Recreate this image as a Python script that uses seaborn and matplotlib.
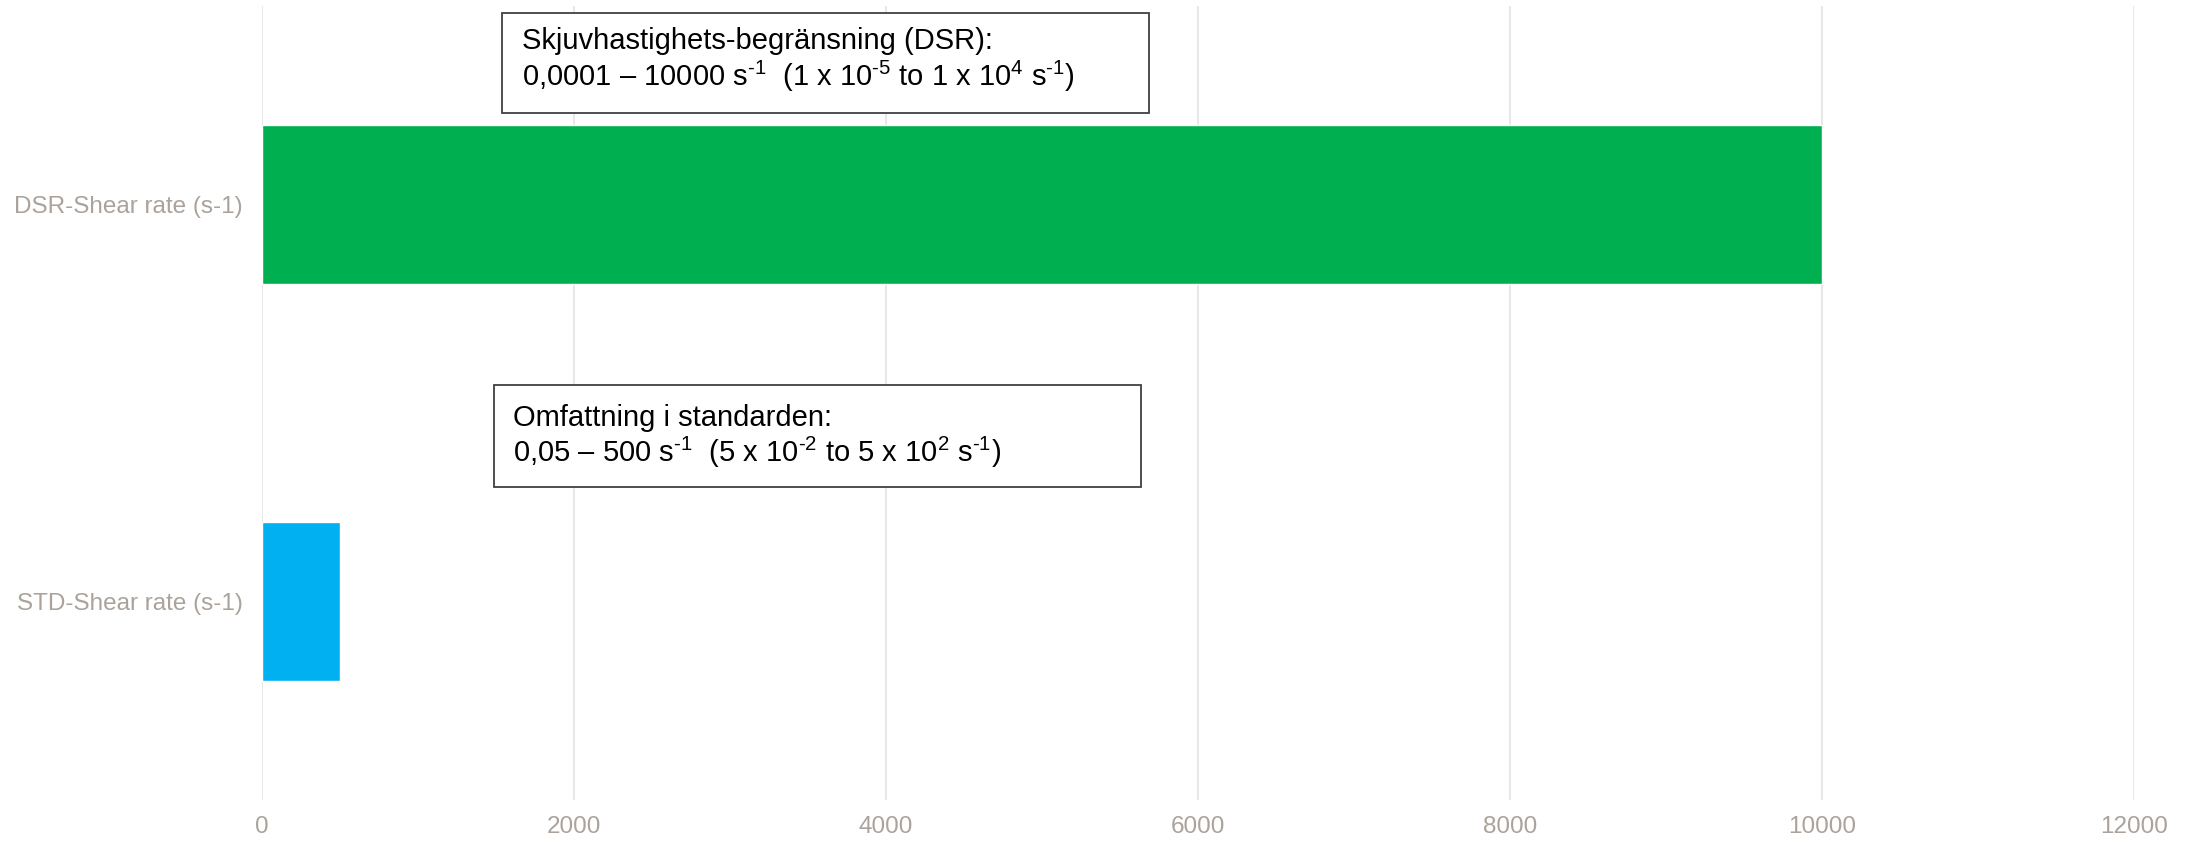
import matplotlib
matplotlib.use("Agg")
import matplotlib.pyplot as plt
from matplotlib.patches import Rectangle
import seaborn as sns
import pandas as pd

categories = ["DSR-Shear rate (s-1)", "STD-Shear rate (s-1)"]
values = [10000, 500]
bar_colors = ["#00B050", "#00B0F0"]
x_ticks = [0, 2000, 4000, 6000, 8000, 10000, 12000]

HY = "\u2010"  # plain hyphen for the superscript exponents
dsr_title = "Skjuvhastighets-begränsning (DSR):"
dsr_range = (rf"0,0001 – 10000 s$\mathregular{{^{{{HY}1}}}}$  (1 x 10$\mathregular{{^{{{HY}5}}}}$ "
             rf"to 1 x 10$\mathregular{{^{{4}}}}$ s$\mathregular{{^{{{HY}1}}}}$)")
std_title = "Omfattning i standarden:"
std_range = (rf"0,05 – 500 s$\mathregular{{^{{{HY}1}}}}$  (5 x 10$\mathregular{{^{{{HY}2}}}}$ "
             rf"to 5 x 10$\mathregular{{^{{2}}}}$ s$\mathregular{{^{{{HY}1}}}}$)")

sns.set_theme(style="white")
plt.rcParams["font.family"] = ["Liberation Sans", "DejaVu Sans"]
plt.rcParams["mathtext.fontset"] = "custom"
plt.rcParams["mathtext.rm"] = "Liberation Sans"
plt.rcParams["mathtext.it"] = "Liberation Sans:italic"
plt.rcParams["mathtext.bf"] = "Liberation Sans:bold"

df = pd.DataFrame({"category": categories, "value": values})

fig = plt.figure(figsize=(21.93, 8.41), dpi=100)
ax = fig.add_axes([0.1195, 0.049, 0.8536, 0.944])

sns.barplot(data=df, x="value", y="category", hue="category",
            palette=bar_colors, orient="h", width=0.4, saturation=1,
            legend=False, ax=ax)

ax.set_xlim(0, 12000)
ax.set_ylim(1.5, -0.5)
ax.set_xticks(x_ticks)
ax.set_xlabel("")
ax.set_ylabel("")
ax.grid(axis="x", color="#E3E3E3", linewidth=1.2)
ax.grid(axis="y", visible=False)
ax.set_axisbelow(True)
for side in ax.spines.values():
    side.set_visible(False)
label_color = "#ABA39B"
ax.tick_params(axis="both", length=0, labelsize=17.5, colors=label_color)
ax.tick_params(axis="x", pad=12)
ax.tick_params(axis="y", pad=14)

# annotation boxes
boxes = [
    (0.128, 0.865, 0.346, 0.126, dsr_title, dsr_range, 0.139, 0.946, 0.899),
    (0.124, 0.394, 0.3456, 0.1287, std_title, std_range, 0.134, 0.471, 0.426),
]
for x0, y0, w, h, t1, t2, tx, ty1, ty2 in boxes:
    ax.add_patch(Rectangle((x0, y0), w, h, transform=ax.transAxes,
                           facecolor="white", edgecolor="#404040",
                           linewidth=1.3, zorder=5, clip_on=False))
    ax.text(tx, ty1, t1, transform=ax.transAxes, fontsize=21,
            color="black", va="baseline", ha="left", zorder=6)
    ax.text(tx, ty2, t2, transform=ax.transAxes, fontsize=21,
            color="black", va="baseline", ha="left", zorder=6)

fig.savefig("out.png", dpi=100, facecolor="white")
